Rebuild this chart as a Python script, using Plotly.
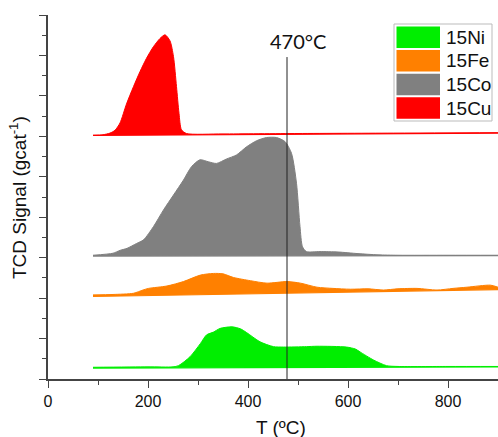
import plotly.graph_objects as go

W, H = 498, 437
ML, MR, MT, MB = 48, 0, 15, 58

# ---- data (T in °C, signal in stacked arbitrary units) ----
series_names = ["15Ni", "15Fe", "15Co", "15Cu"]
series_colors = ["#00EE00", "#FF8000", "#808080", "#FF0000"]

ni_T = [90, 200, 250, 261, 284, 305, 317, 331, 344, 368, 385, 397, 424, 451, 471, 517, 538, 597, 615, 624, 651, 677, 700, 800, 900]
ni_y = [0.29, 0.30, 0.30, 0.33, 0.55, 0.88, 1.09, 1.16, 1.25, 1.29, 1.24, 1.15, 0.92, 0.80, 0.79, 0.80, 0.81, 0.79, 0.74, 0.67, 0.47, 0.33, 0.31, 0.31, 0.31]
ni_base = [0.27, 0.30]

fe_T = [90, 130, 171, 190, 201, 238, 271, 305, 331, 350, 371, 405, 438, 478, 505, 538, 570, 605, 640, 671, 700, 738, 778, 810, 838, 885, 900]
fe_y = [2.08, 2.09, 2.12, 2.20, 2.24, 2.30, 2.41, 2.57, 2.61, 2.60, 2.51, 2.43, 2.37, 2.41, 2.37, 2.27, 2.24, 2.22, 2.23, 2.20, 2.23, 2.24, 2.20, 2.24, 2.27, 2.32, 2.27]
fe_base = [2.04, 2.21]

co_T = [90, 130, 144, 158, 177, 191, 211, 231, 251, 271, 287, 304, 321, 337, 357, 377, 397, 417, 437, 457, 474, 487, 497, 504, 509, 517, 544, 580, 620, 660, 700, 800, 900]
co_y = [3.06, 3.11, 3.18, 3.23, 3.35, 3.44, 3.77, 4.18, 4.55, 4.92, 5.25, 5.42, 5.37, 5.33, 5.44, 5.54, 5.74, 5.89, 5.97, 5.97, 5.87, 5.58, 4.84, 3.77, 3.27, 3.15, 3.15, 3.14, 3.10, 3.07, 3.06, 3.06, 3.06]
co_base = [3.04, 3.05]

cu_T = [90, 110, 124, 134, 144, 157, 171, 184, 197, 211, 224, 234, 244, 251, 257, 262, 267, 277, 350, 500, 700, 900]
cu_y = [6.03, 6.04, 6.08, 6.15, 6.33, 6.80, 7.23, 7.60, 7.93, 8.22, 8.42, 8.51, 8.36, 7.97, 7.23, 6.57, 6.16, 6.07, 6.06, 6.07, 6.08, 6.09]
cu_base = [6.02, 6.08]

marker_T = 478
marker_label = "470°C"
marker_top = 7.96

x_ticks = [0, 200, 400, 600, 800]
x_range = [0, 900]
y_range = [0, 9]

x_title = "T (ºC)"
y_title = "TCD Signal (gcat<sup>-1</sup>)"

# ---- figure ----
fig = go.Figure()

all_T = [ni_T, fe_T, co_T, cu_T]
all_y = [ni_y, fe_y, co_y, cu_y]
all_base = [ni_base, fe_base, co_base, cu_base]

for name, col, T, y, b in zip(series_names, series_colors, all_T, all_y, all_base):
    t0, t1 = T[0], T[-1]
    base_vals = [b[0] + (b[1] - b[0]) * (t - t0) / (t1 - t0) for t in T]
    fig.add_trace(go.Scatter(x=T, y=base_vals, mode="lines",
                             line=dict(color=col, width=1.2),
                             showlegend=False, hoverinfo="skip"))
    fig.add_trace(go.Scatter(x=T, y=y, mode="lines", name=name,
                             line=dict(color=col, width=1, shape="spline", smoothing=0.7),
                             fill="tonexty", fillcolor=col, showlegend=False))

fig.add_trace(go.Scatter(x=[marker_T, marker_T], y=[0, marker_top], mode="lines",
                         line=dict(color="#222222", width=1), showlegend=False, hoverinfo="skip"))

PW = W - ML - MR
PH = H - MT - MB

def px(xp):
    return (xp - ML) / PW

def py(yp):
    return (H - MB - yp) / PH

shapes = []
annotations = []

# legend box
shapes.append(dict(type="rect", xref="paper", yref="paper",
                   x0=px(394), x1=px(492), y0=py(121), y1=py(24),
                   line=dict(color="#BBBBBB", width=1), fillcolor="white", layer="above"))
row_top0, row_pitch, row_h = 26.5, 23.6, 21.5
for i, (name, col) in enumerate(zip(series_names, series_colors)):
    top = row_top0 + i * row_pitch
    shapes.append(dict(type="rect", xref="paper", yref="paper",
                       x0=px(396.5), x1=px(440), y0=py(top + row_h), y1=py(top),
                       line=dict(width=0), fillcolor=col, layer="above"))
    annotations.append(dict(text=name, xref="paper", yref="paper",
                            x=px(444), y=py(top + row_h / 2), xanchor="left", yanchor="middle",
                            showarrow=False, font=dict(family="Liberation Sans, Arial", size=19, color="#111")))

annotations.append(dict(text=marker_label, xref="paper", yref="paper",
                        x=px(297.5), y=py(41), xanchor="center", yanchor="middle",
                        showarrow=False, font=dict(family="Lato, Liberation Sans", size=20, color="#111")))
annotations.append(dict(text=x_title, xref="paper", yref="paper",
                        x=px(281), y=py(427), xanchor="center", yanchor="middle",
                        showarrow=False, font=dict(family="Liberation Sans, Arial", size=19, color="#111")))
annotations.append(dict(text=y_title, xref="paper", yref="paper",
                        x=px(18), y=py(198), xanchor="center", yanchor="middle", textangle=-90,
                        showarrow=False, font=dict(family="Liberation Sans, Arial", size=19, color="#111")))

axis_col = "#444444"
fig.update_layout(
    width=W, height=H,
    margin=dict(l=ML, r=MR, t=MT, b=MB, pad=0),
    plot_bgcolor="white", paper_bgcolor="white",
    showlegend=False,
    shapes=shapes, annotations=annotations,
    xaxis=dict(range=x_range, tickvals=x_ticks, ticks="outside", ticklen=7, tickwidth=1.3,
               tickcolor=axis_col, showline=True, linecolor=axis_col, linewidth=1.5,
               showgrid=False, zeroline=False,
               minor=dict(dtick=100, ticks="outside", ticklen=4, tickcolor=axis_col, showgrid=False),
               tickfont=dict(family="Liberation Sans, Arial", size=16, color="#111")),
    yaxis=dict(range=y_range, dtick=1, ticks="outside", ticklen=7, tickwidth=1.3,
               tickcolor=axis_col, showline=True, linecolor=axis_col, linewidth=1.5,
               showticklabels=False, showgrid=False, zeroline=False,
               minor=dict(dtick=0.5, ticks="outside", ticklen=4, tickcolor=axis_col, showgrid=False)),
)

fig.write_html("out.html")
